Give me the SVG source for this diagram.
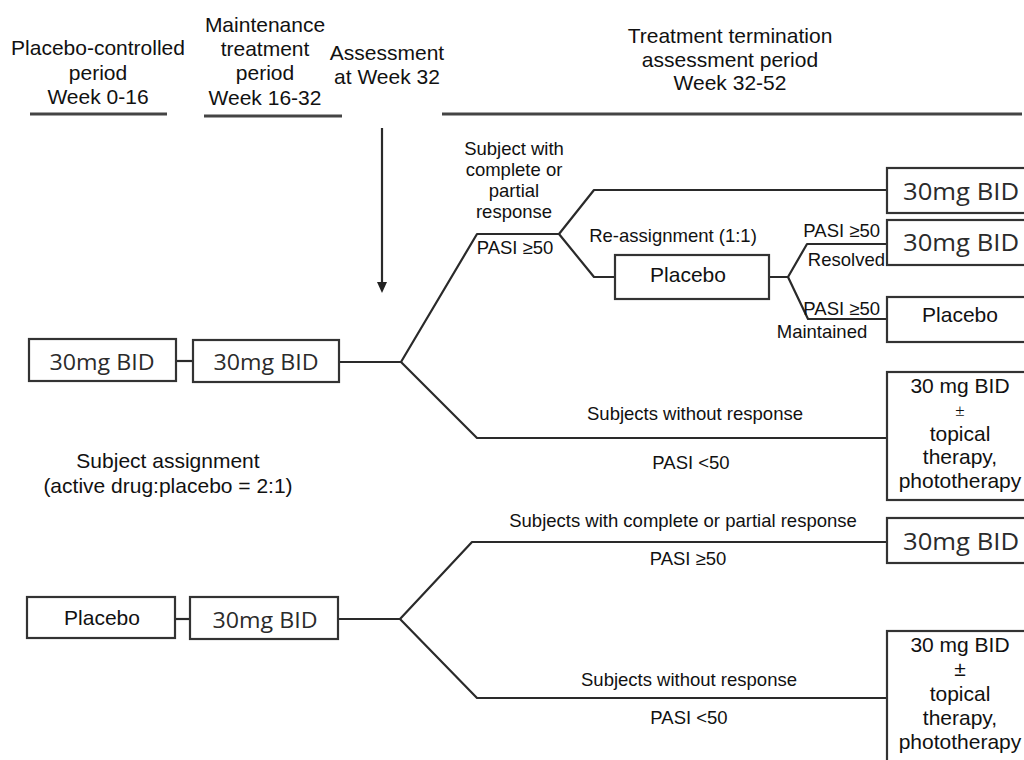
<svg xmlns="http://www.w3.org/2000/svg" width="1024" height="760" viewBox="0 0 1024 760">
<style>
.hd{font-family:"Liberation Sans",Arial,sans-serif;font-size:21px;fill:#111;text-anchor:middle}
.lb{font-family:"Liberation Sans",Arial,sans-serif;font-size:18.5px;fill:#111;text-anchor:middle}
.bx{fill:#fff;stroke:#333;stroke-width:2.2}
.ta{font-family:"Liberation Sans",Arial,sans-serif;font-size:21px;fill:#111;text-anchor:middle}
.tc{font-family:"Open Sans","Noto Sans",sans-serif;fill:#2b2b2b;text-anchor:middle}
.ln{fill:none;stroke:#2a2a2a;stroke-width:2.2;stroke-linejoin:round}
.hl{stroke:#444;stroke-width:3}
.ah{fill:#222}
</style>
<rect width="1024" height="760" fill="#fff"/>

<g id="headers">
<text class="hd" x="98" y="55">Placebo-controlled</text>
<text class="hd" x="98" y="80">period</text>
<text class="hd" x="98" y="104">Week 0-16</text>
<text class="hd" x="265" y="32">Maintenance</text>
<text class="hd" x="265" y="56">treatment</text>
<text class="hd" x="265" y="80">period</text>
<text class="hd" x="265" y="105">Week 16-32</text>
<text class="hd" x="387" y="60">Assessment</text>
<text class="hd" x="387" y="84">at Week 32</text>
<text class="hd" x="730" y="43">Treatment termination</text>
<text class="hd" x="730" y="67">assessment period</text>
<text class="hd" x="730" y="90">Week 32-52</text>
<line class="hl" x1="30" y1="114" x2="167" y2="114"/>
<line class="hl" x1="204" y1="116" x2="342" y2="116"/>
<line class="hl" x1="442" y1="114" x2="1022" y2="114"/>
</g>

<g id="connectors">
<line class="ln" x1="382" y1="128" x2="382" y2="284"/>
<polygon class="ah" points="377,282 387,282 382,293"/>
<line class="ln" x1="176" y1="361" x2="193" y2="361"/>
<path class="ln" d="M339,362 H401 L477,234 H559 L594,190 H887"/>
<path class="ln" d="M401,362 L477,438 H887"/>
<path class="ln" d="M559,234 L594,277 H615"/>
<path class="ln" d="M769,277 H788 L807,244 H887"/>
<path class="ln" d="M788,277 L808,319 H887"/>
<line class="ln" x1="175" y1="619" x2="190" y2="619"/>
<path class="ln" d="M338,619 H400 L472,542 H887"/>
<path class="ln" d="M400,619 L477,698 H887"/>
</g>

<g id="labels">
<text class="lb" x="514" y="155">Subject with</text>
<text class="lb" x="514" y="176">complete or</text>
<text class="lb" x="514" y="197">partial</text>
<text class="lb" x="514" y="218">response</text>
<text class="lb" x="515" y="254">PASI ≥50</text>
<text class="lb" x="673" y="242">Re-assignment (1:1)</text>
<text class="lb" x="880" y="237" style="text-anchor:end">PASI ≥50</text>
<text class="lb" x="885" y="266" style="text-anchor:end">Resolved</text>
<text class="lb" x="880" y="315" style="text-anchor:end">PASI ≥50</text>
<text class="lb" x="822" y="338">Maintained</text>
<text class="lb" x="695" y="420">Subjects without response</text>
<text class="lb" x="691" y="469">PASI &lt;50</text>
<text class="lb" x="683" y="527">Subjects with complete or partial response</text>
<text class="lb" x="688" y="565">PASI ≥50</text>
<text class="lb" x="689" y="686">Subjects without response</text>
<text class="lb" x="689" y="724">PASI &lt;50</text>
<text class="hd" x="168" y="468">Subject assignment</text>
<text class="hd" x="168" y="493">(active drug:placebo = 2:1)</text>
</g>

<g id="n-a1">
<rect class="bx" x="29" y="339" width="147" height="42"/>
<text class="tc" x="102" y="370" font-size="21" textLength="105" lengthAdjust="spacingAndGlyphs">30mg BID</text>
</g>
<g id="n-a2">
<rect class="bx" x="193" y="340" width="146" height="42"/>
<text class="tc" x="266" y="370" font-size="21" textLength="105" lengthAdjust="spacingAndGlyphs">30mg BID</text>
</g>
<g id="n-p1">
<rect class="bx" x="27" y="597" width="148" height="41"/>
<text class="ta" x="102" y="625">Placebo</text>
</g>
<g id="n-p2">
<rect class="bx" x="190" y="597" width="148" height="42"/>
<text class="tc" x="265" y="628" font-size="21" textLength="105" lengthAdjust="spacingAndGlyphs">30mg BID</text>
</g>
<g id="n-mid-placebo">
<rect class="bx" x="615" y="255" width="154" height="44"/>
<text class="ta" x="688" y="282">Placebo</text>
</g>
<g id="n-r1">
<rect class="bx" x="887" y="168" width="150" height="45"/>
<text class="tc" x="961" y="200" font-size="24" textLength="116" lengthAdjust="spacingAndGlyphs">30mg BID</text>
</g>
<g id="n-r2">
<rect class="bx" x="887" y="220" width="150" height="45"/>
<text class="tc" x="961" y="251" font-size="24" textLength="116" lengthAdjust="spacingAndGlyphs">30mg BID</text>
</g>
<g id="n-r3">
<rect class="bx" x="887" y="297" width="150" height="45"/>
<text class="ta" x="960" y="322">Placebo</text>
</g>
<g id="n-r4">
<rect class="bx" x="887" y="372" width="150" height="128"/>
<text class="ta" x="960" y="393">30 mg BID</text>
<text class="ta" x="960" y="416" style="font-family:'Liberation Serif',serif;font-size:17px">±</text>
<text class="ta" x="960" y="441">topical</text>
<text class="ta" x="960" y="464">therapy,</text>
<text class="ta" x="960" y="488">phototherapy</text>
</g>
<g id="n-r5">
<rect class="bx" x="887" y="518" width="150" height="45"/>
<text class="tc" x="961" y="550" font-size="24" textLength="116" lengthAdjust="spacingAndGlyphs">30mg BID</text>
</g>
<g id="n-r6">
<rect class="bx" x="887" y="631" width="150" height="140"/>
<text class="ta" x="960" y="652">30 mg BID</text>
<text class="ta" x="960" y="676">±</text>
<text class="ta" x="960" y="701">topical</text>
<text class="ta" x="960" y="725">therapy,</text>
<text class="ta" x="960" y="749">phototherapy</text>
</g>
</svg>
